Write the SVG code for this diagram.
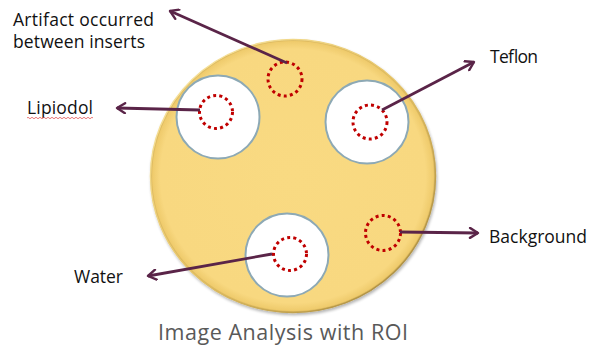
<svg xmlns="http://www.w3.org/2000/svg" width="595" height="349" viewBox="0 0 595 349">
<defs>
<radialGradient id="disc" cx="50%" cy="50%" r="50%">
<stop offset="0" stop-color="#F9DA82"/>
<stop offset="0.93" stop-color="#F8D880"/>
<stop offset="0.985" stop-color="#EFCB6C"/>
<stop offset="1" stop-color="#C9A650"/>
</radialGradient>
<linearGradient id="rim" x1="0" y1="0" x2="1" y2="1">
<stop offset="0" stop-color="#FCEBAA"/>
<stop offset="0.5" stop-color="#E6C466"/>
<stop offset="1" stop-color="#9A7E38"/>
</linearGradient>
<filter id="sh" x="-10%" y="-10%" width="120%" height="120%">
<feGaussianBlur in="SourceAlpha" stdDeviation="1.5"/>
<feOffset dx="1" dy="2"/>
<feComponentTransfer><feFuncA type="linear" slope="0.3"/></feComponentTransfer>
<feMerge><feMergeNode/><feMergeNode in="SourceGraphic"/></feMerge>
</filter>
<marker id="arr" viewBox="0 0 12 12" refX="2" refY="6" markerWidth="12" markerHeight="12" markerUnits="userSpaceOnUse" orient="auto">
<polyline points="10,1 2,6 10,11" fill="none" stroke="#5A2448" stroke-width="2.4" stroke-linecap="round" stroke-linejoin="round"/>
</marker>
</defs>
<style>
.insert{fill:#FFFFFF;stroke:#8DA9B5;stroke-width:2}
.roi{fill:none;stroke:#C00000;stroke-width:3;stroke-dasharray:3 3.2}
.conn{fill:none;stroke:#5A2448;stroke-width:2.8;marker-start:url(#arr)}
.lbl{font-family:"Open Sans","Noto Sans","Liberation Sans",sans-serif;font-size:17.5px;fill:#111111}
.title{font-family:"Open Sans","Noto Sans","Liberation Sans",sans-serif;font-size:21.5px;fill:#595959}
</style>
<g id="phantom" filter="url(#sh)">
<ellipse cx="293" cy="176" rx="142.5" ry="136.5" fill="url(#disc)" stroke="url(#rim)" stroke-width="1.5"/>
</g>
<g id="lipiodol-insert"><circle class="insert" cx="218" cy="117" r="41.5"/></g>
<g id="teflon-insert"><circle class="insert" cx="367" cy="122" r="41.5"/></g>
<g id="water-insert"><circle class="insert" cx="287" cy="255" r="41.5"/></g>
<g id="roi-artifact"><circle class="roi" cx="285" cy="79" r="17"/></g>
<g id="roi-lipiodol"><circle class="roi" cx="216" cy="112" r="16.5"/></g>
<g id="roi-teflon"><circle class="roi" cx="370" cy="122" r="17"/></g>
<g id="roi-water"><circle class="roi" cx="290" cy="254" r="16.5"/></g>
<g id="roi-background"><circle class="roi" cx="383" cy="233" r="17.5"/></g>
<g id="connectors">
<path class="conn" d="M170,11 L287,63"/>
<path class="conn" d="M117,108 L200,110"/>
<path class="conn" d="M474,62 L382,110"/>
<path class="conn" d="M148,276 L272,254"/>
<path class="conn" d="M478,233 L400,232"/>
</g>
<g id="label-artifact">
<text class="lbl" x="13" y="26" textLength="141" lengthAdjust="spacing">Artifact occurred</text>
<text class="lbl" x="13" y="48" textLength="132" lengthAdjust="spacing">between inserts</text>
</g>
<g id="label-lipiodol">
<text class="lbl" x="27" y="114" textLength="66" lengthAdjust="spacing">Lipiodol</text>
<path d="M27,118 q1,-1.5 2,0 t2,0 t2,0 t2,0 t2,0 t2,0 t2,0 t2,0 t2,0 t2,0 t2,0 t2,0 t2,0 t2,0 t2,0 t2,0 t2,0 t2,0 t2,0 t2,0 t2,0 t2,0 t2,0 t2,0 t2,0 t2,0 t2,0 t2,0 t2,0 t2,0 t2,0 t2,0 t2,0" fill="none" stroke="#E04040" stroke-width="0.7"/>
</g>
<g id="label-teflon"><text class="lbl" x="490" y="63" textLength="48" lengthAdjust="spacing">Teflon</text></g>
<g id="label-water"><text class="lbl" x="74" y="283" textLength="49" lengthAdjust="spacing">Water</text></g>
<g id="label-background"><text class="lbl" x="489" y="243" textLength="98" lengthAdjust="spacing">Background</text></g>
<g id="title"><text class="title" x="158" y="340" textLength="250" lengthAdjust="spacing">Image Analysis with ROI</text></g>
</svg>
